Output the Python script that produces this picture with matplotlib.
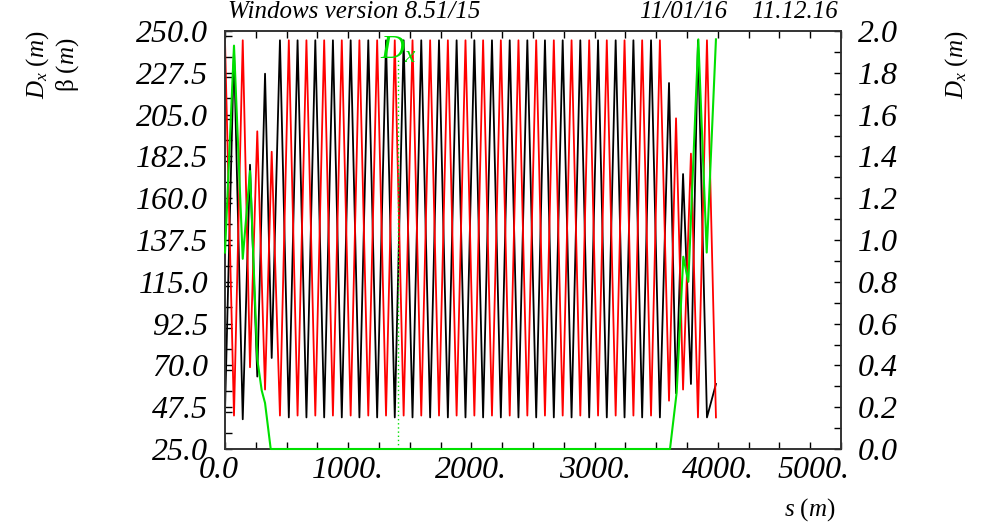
import numpy as np
import matplotlib
matplotlib.use('Agg')
import matplotlib.pyplot as plt
import matplotlib.transforms as mtransforms
from matplotlib.ticker import MultipleLocator, FixedLocator

plt.rcParams['font.family'] = ['Liberation Serif', 'DejaVu Serif']
plt.rcParams['mathtext.fontset'] = 'custom'
plt.rcParams['mathtext.rm'] = 'Liberation Serif'
plt.rcParams['mathtext.it'] = 'Liberation Serif:italic'

###############################################################
# quad positions (m)
s_q = [0, 73, 144, 203, 262, 325, 379,
       446, 518, 589, 661, 733, 805, 876, 948, 1020, 1091,
       1163, 1235, 1307, 1378, 1450, 1522, 1593, 1665, 1737, 1809,
       1880, 1952, 2024, 2095, 2167, 2239, 2311, 2382, 2454, 2526,
       2597, 2669, 2741, 2813, 2884, 2956, 3028, 3099, 3171, 3243,
       3315, 3386, 3458, 3530,
       3604, 3661, 3718, 3782, 3839, 3912, 3985]

beta_x = [45, 240, 41, 178, 64, 227, 74,
          245, 42, 245, 42, 245, 42, 245, 42, 245, 42,
          245, 42, 245, 42, 245, 42, 245, 42, 245, 42,
          245, 42, 245, 42, 245, 42, 245, 42, 245, 42,
          245, 42, 245, 42, 245, 42, 245, 42, 245, 42,
          245, 42, 245, 42,
          222, 55, 173, 60, 245, 42, 60]

beta_y = [245, 43, 245, 69, 196, 57, 185,
          43, 245, 43, 245, 43, 245, 43, 245, 43, 245,
          43, 245, 43, 245, 43, 245, 43, 245, 43, 245,
          43, 245, 43, 245, 43, 245, 43, 245, 43, 245,
          43, 245, 43, 245, 43, 245, 43, 245, 43, 245,
          43, 245, 43, 245,
          51, 203, 57, 184, 42, 245, 42]

# horizontal dispersion
s_d = [0, 73, 144, 203, 262, 298, 325, 371, 3612, 3666, 3720, 3761, 3842, 3910, 3985]
d_x = [0.94, 1.93, 0.91, 1.33, 0.43, 0.28, 0.22, 0.0, 0.0, 0.27, 0.92, 0.80, 1.96, 0.94, 1.96]

s_mark = 1404
###############################################################

fig = plt.figure(figsize=(9.81, 5.24), dpi=100)
ax = fig.add_axes([225/981, 1-449/524, (841-225)/981, (449-31)/524])
ax2 = ax.twinx()

green = '#00e000'
ax.plot(s_q, beta_x, color='black', lw=1.3)
ax.plot(s_q, beta_y, color='red', lw=1.3)
ax2.plot(s_d, d_x, color=green, lw=1.5, clip_on=False, zorder=5)
ax2.plot([s_mark, s_mark], [0, 1.86], color=green, lw=1, ls=(0, (1, 2)))
ax2.text(1258, 1.91, r'$D_x$', color=green, fontsize=24, ha='left', va='center')

ax.set_xlim(0, 5000)
ax.set_ylim(25, 250)
ax2.set_ylim(0, 2.0)

ax.xaxis.set_major_locator(FixedLocator([0, 1000, 2000, 3000, 4000, 5000]))
ax.xaxis.set_minor_locator(MultipleLocator(250))
ax.set_xticklabels(['0.0', '1000.', '2000.', '3000.', '4000.', '5000.'])
yt = [25 + 22.5*i for i in range(11)]
ax.yaxis.set_major_locator(FixedLocator(yt))
ax.yaxis.set_minor_locator(MultipleLocator(11.25))
ax.set_yticklabels(['%.1f' % v for v in yt])
ax2.yaxis.set_minor_locator(MultipleLocator(0.1))
ax2.yaxis.set_major_locator(FixedLocator([0.2*i for i in range(11)]))
ax2.set_yticklabels(['%.1f' % (0.2*i) for i in range(11)])

ax.tick_params(axis='x', which='both', direction='in', top=True, length=5, width=1, pad=5)
ax.tick_params(axis='y', which='both', direction='in', length=5, width=1, pad=12)
ax.tick_params(axis='y', right=False)
ax2.tick_params(axis='y', which='both', direction='in', length=5, width=1, pad=12)
for lab in ax.get_xticklabels() + ax.get_yticklabels() + ax2.get_yticklabels():
    lab.set_fontsize(23)
    lab.set_fontstyle('italic')

# first and last x labels sit a little off their ticks, as in the original
xl = ax.get_xticklabels()
xl[0].set_transform(xl[0].get_transform() + mtransforms.ScaledTranslation(-6/100, 0, fig.dpi_scale_trans))
xl[-1].set_horizontalalignment('right')
xl[-1].set_transform(xl[-1].get_transform() + mtransforms.ScaledTranslation(9/100, 0, fig.dpi_scale_trans))

for a in (ax, ax2):
    for sp in a.spines.values():
        sp.set_color('#333333')
        sp.set_linewidth(1.2)

fig.text(228/981, 1-12/524, 'Windows version 8.51/15', fontsize=18, fontstyle='italic',
         ha='left', va='center')
fig.text(838/981, 1-12/524, '11/01/16    11.12.16', fontsize=18, fontstyle='italic',
         ha='right', va='center')
fig.text(38/981, 1-65/524, r'$D_x\ (m)$', fontsize=18, rotation=90, ha='center', va='center')
fig.text(68/981, 1-65/524, r'$\mathrm{\beta}\ (m)$', fontsize=18, rotation=90, ha='center', va='center')
fig.text(957/981, 1-65/524, r'$D_x\ (m)$', fontsize=18, rotation=90, ha='center', va='center')
fig.text(810/981, 1-510/524, r'$s\ (m)$', fontsize=18, ha='center', va='center')

fig.savefig('out.png', dpi=100)
